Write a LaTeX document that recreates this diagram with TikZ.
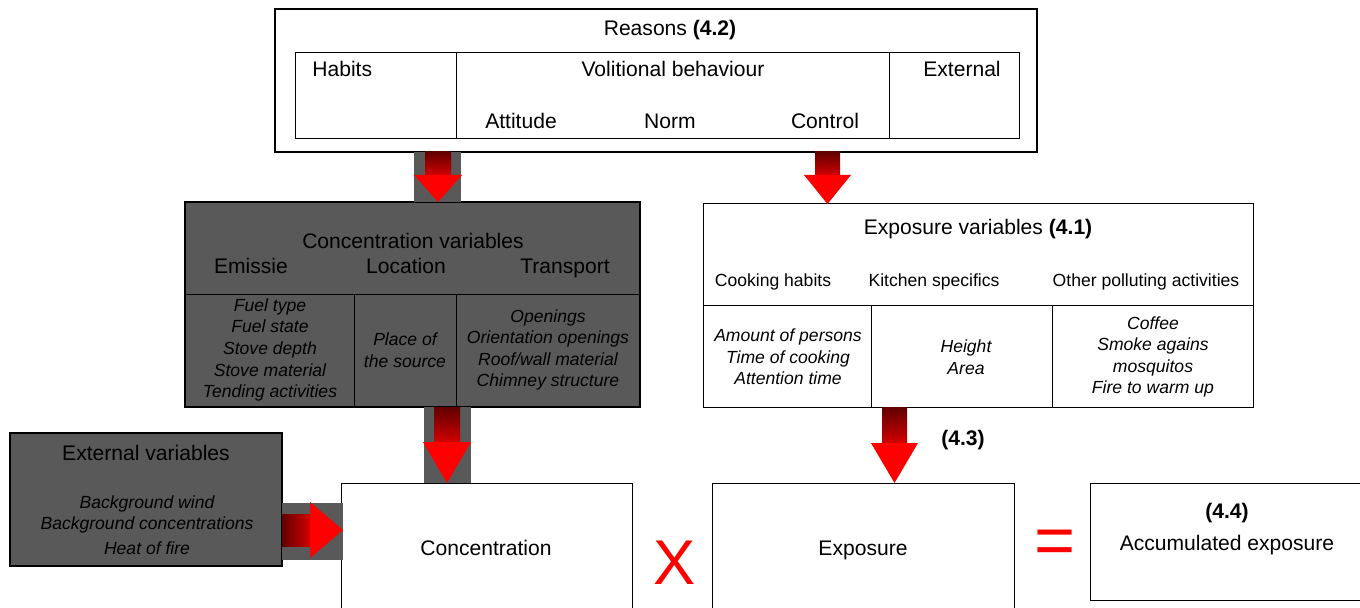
\documentclass[tikz,border=0pt]{standalone}
\usepackage{fontspec}
\setmainfont{Liberation Sans}
\usetikzlibrary{calc}
\definecolor{boxgray}{RGB}{89,89,89}
\definecolor{arrdark}{RGB}{96,0,0}
\definecolor{arrmid}{RGB}{210,0,0}
\definecolor{arrred}{RGB}{255,0,0}

\begin{document}
\begin{tikzpicture}[
    x=0.02cm, y=-0.02cm,
    box/.style={draw=black, line width=0.6pt},
    graybox/.style={box, fill=boxgray},
    title/.style={font=\fontsize{12}{14.4}\selectfont, anchor=base, inner sep=0pt},
    sub/.style={font=\fontsize{10}{12}\selectfont, anchor=base, inner sep=0pt},
    items/.style={font=\fontsize{10}{12.3}\selectfont\itshape, align=center, inner sep=0pt},
    shaft/.style={top color=arrdark, bottom color=arrmid},
    hshaft/.style={left color=arrdark, right color=arrmid},
    tip/.style={fill=arrred},
    bigsign/.style={text=arrred, inner sep=0pt}
]
    \useasboundingbox (0,0) rectangle (1360,608);
    \clip (0,0) rectangle (1360,608);

    % Reasons
    \draw[box] (275,9) rectangle (1037,152);
    \draw[box, line width=0.5pt] (295,52) rectangle (1019,138);
    \draw[box, line width=0.5pt] (456,52) -- (456,138);
    \draw[box, line width=0.5pt] (889,52) -- (889,138);
    \node[title] (reasons) at (670,36) {Reasons \textbf{(4.2)}};
    \node[title, anchor=base west] (habits) at (312,77) {Habits};
    \node[title] (volitional) at (673,77) {Volitional behaviour};
    \node[title] (external) at (962,77) {External};
    \node[title] (attitude) at (521,129) {Attitude};
    \node[title] (norm) at (670,129) {Norm};
    \node[title] (control) at (825,129) {Control};

    % Concentration variables
    \draw[graybox] (185,202) rectangle (640,407);
    \draw[box, line width=0.5pt] (185,294) -- (640,294);
    \draw[box, line width=0.5pt] (354,294) -- (354,407);
    \draw[box, line width=0.5pt] (456,294) -- (456,407);
    \node[title] (concvars) at (413,248) {Concentration variables};
    \node[title] (emissie) at (251,274) {Emissie};
    \node[title] (location) at (406,274) {Location};
    \node[title] (transport) at (565,274) {Transport};
    \node[items] (emissieitems) at (270,350) {Fuel type\\Fuel state\\Stove depth\\Stove material\\Tending activities};
    \node[items] (locationitems) at (405,350) {Place of\\the source};
    \node[items] (transportitems) at (548,350) {Openings\\Orientation openings\\Roof/wall material\\Chimney structure};

    % Exposure variables
    \draw[box, line width=0.5pt] (703,203) rectangle (1253,407);
    \draw[box, line width=0.5pt] (703,305) -- (1253,305);
    \draw[box, line width=0.5pt] (871,305) -- (871,407);
    \draw[box, line width=0.5pt] (1052,305) -- (1052,407);
    \node[title] (expovars) at (978,235) {Exposure variables \textbf{(4.1)}};
    \node[sub] (cooking) at (773,286) {Cooking habits};
    \node[sub] (kitchen) at (934,286) {Kitchen specifics};
    \node[sub] (other) at (1146,286) {Other polluting activities};
    \node[items] (cookingitems) at (788,357) {Amount of persons\\Time of cooking\\Attention time};
    \node[items] (kitchenitems) at (966,357) {Height\\Area};
    \node[items] (otheritems) at (1153,357) {Coffee\\Smoke agains\\mosquitos\\Fire to warm up};

    % External variables
    \draw[graybox] (10,433) rectangle (282,566);
    \node[title] (extvars) at (146,460) {External variables};
    \node[items, anchor=base] (wind) at (147,508) {Background wind};
    \node[items, anchor=base] (bgconc) at (147,529) {Background concentrations};
    \node[items, anchor=base] (heat) at (147,554) {Heat of fire};

    % Result boxes
    \draw[box, line width=0.5pt] (341,483) rectangle (632,620);
    \draw[box, line width=0.5pt] (712,483) rectangle (1014,620);
    \draw[box, line width=0.5pt] (1090,483) rectangle (1380,600);
    \node[title] (conc) at (486,555) {Concentration};
    \node[title] (expo) at (863,555) {Exposure};
    \node[title] (num44) at (1227,518) {\textbf{(4.4)}};
    \node[title] (accum) at (1227,550) {Accumulated exposure};
    \node[bigsign, font=\fontsize{36}{40}\selectfont] (times) at (675,563) {X};
    \node[bigsign, font=\fontsize{40}{44}\selectfont] (equals) at (1055,547) {=};
    \node[title] (num43) at (963,445) {\textbf{(4.3)}};

    % Arrows
    \fill[boxgray] (414,152) rectangle (461,202);
    \shade[shaft] (425,152) rectangle (451,175);
    \fill[tip] (414,175) -- (462,175) -- (438,202) -- cycle;

    \shade[shaft] (815,152) rectangle (840,175);
    \fill[tip] (804,175) -- (851,175) -- (827.5,204) -- cycle;

    \fill[boxgray] (424,407) rectangle (471,483);
    \shade[shaft] (434,407) rectangle (460,442);
    \fill[tip] (423,442) -- (471,442) -- (447,483) -- cycle;

    \shade[shaft] (882,407) rectangle (907,443);
    \fill[tip] (871,443) -- (918,443) -- (894.5,483) -- cycle;

    \fill[boxgray] (282,503) rectangle (343,560);
    \shade[hshaft] (282,514) rectangle (310,546);
    \fill[tip] (310,502) -- (310,558) -- (343,530) -- cycle;
\end{tikzpicture}
\end{document}
